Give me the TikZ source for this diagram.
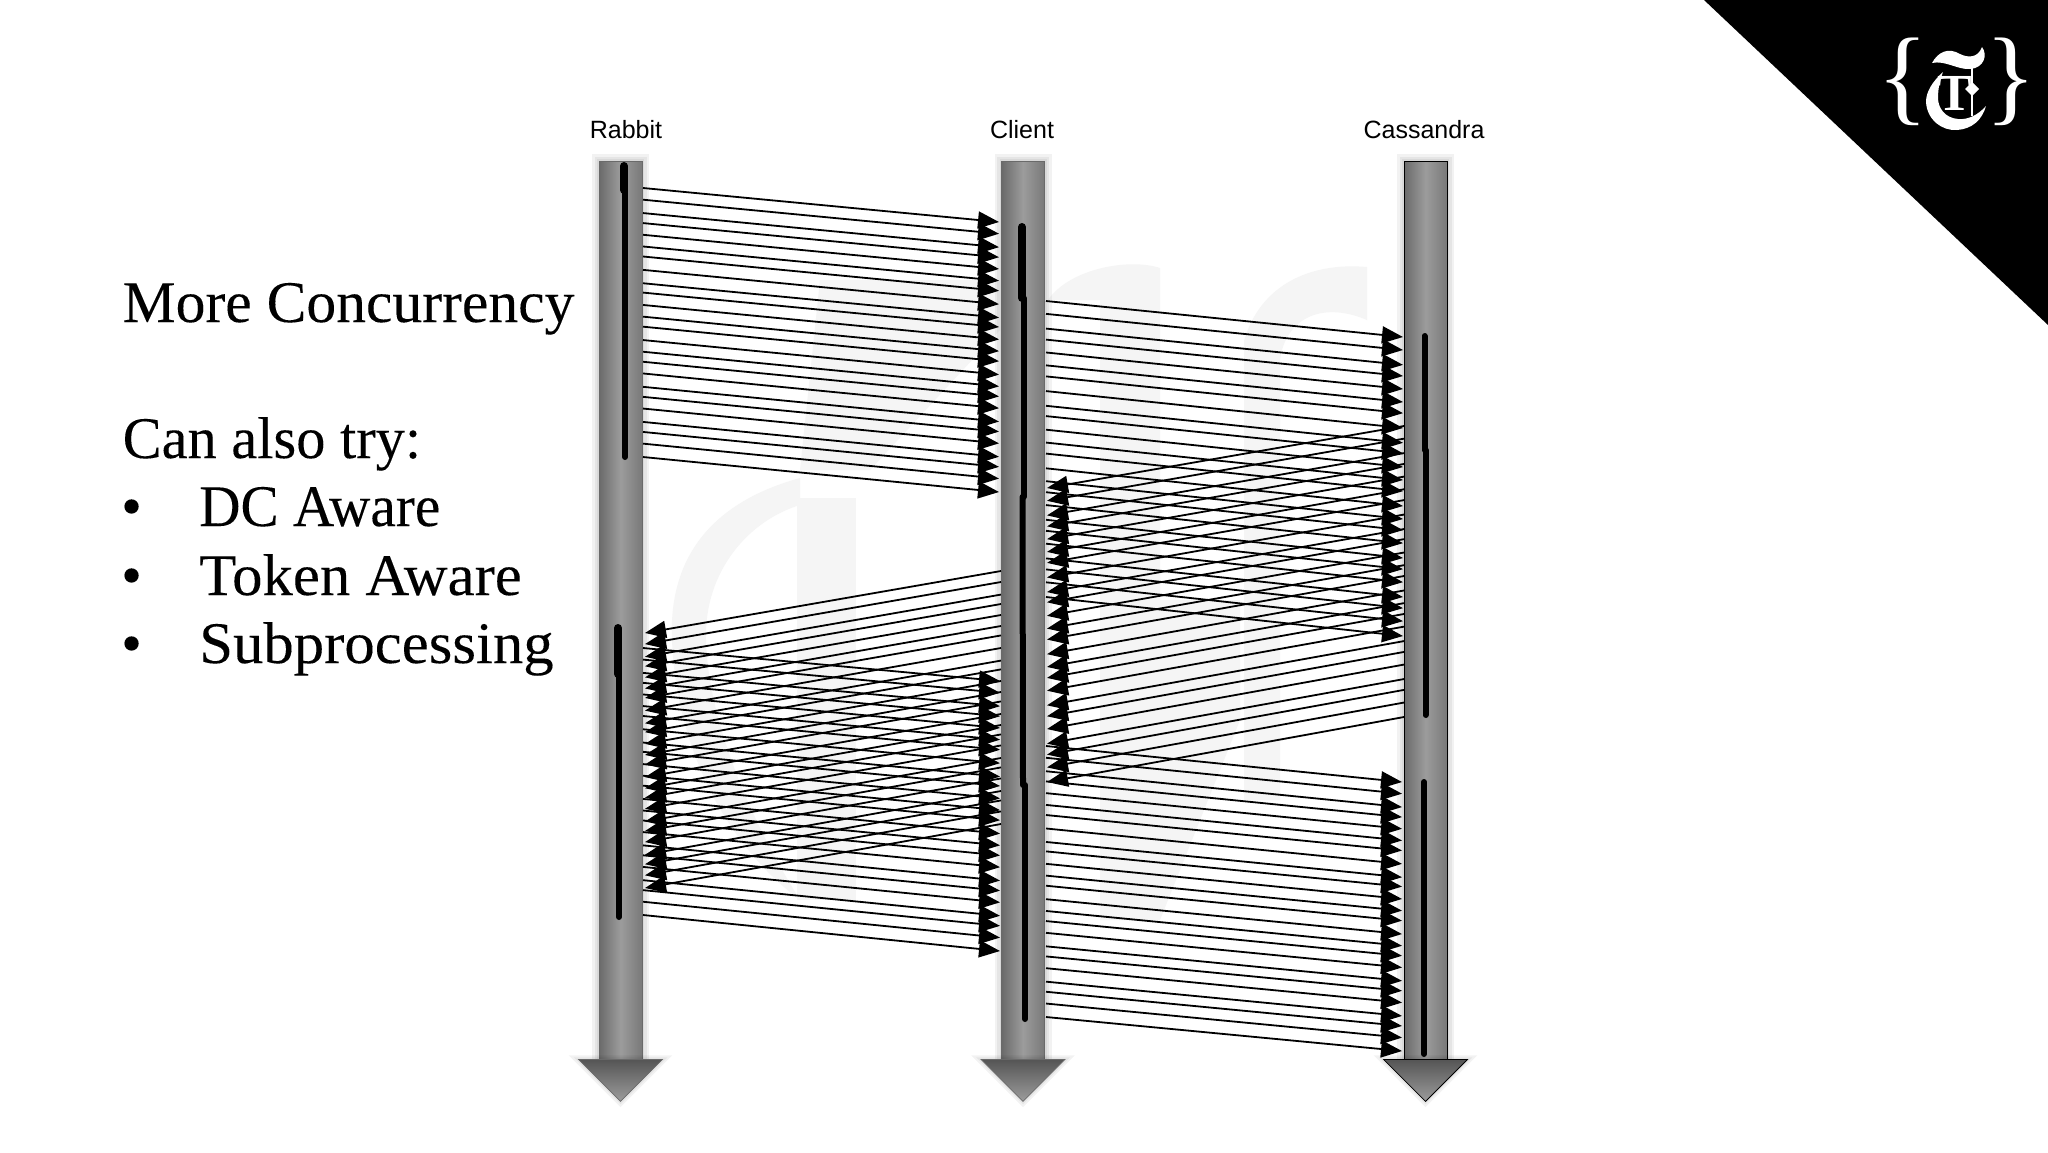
\documentclass[tikz,border=0pt]{standalone}
\usepackage{fontspec}
\setmainfont{Liberation Serif}
\newfontfamily\labelfont{Liberation Sans}
\usetikzlibrary{arrows.meta}
\definecolor{wmark}{HTML}{F5F5F5}
\definecolor{shaftdark}{HTML}{6A6A6A}
\definecolor{shaftlight}{HTML}{9C9C9C}
\tikzset{
  haze/.style={preaction={draw=black,line width=#1,opacity=.05}},
  shaftbox/.style={rectangle,minimum width=43,inner sep=0,draw=#1,line width=.8,
    haze=14,haze=9,haze=4,left color=shaftdark,right color=shaftdark!90,middle color=shaftlight},
  headfill/.style={draw=#1,line width=.8,haze=8,haze=4,top color=shaftdark!80!black,bottom color=shaftlight},
  activebar/.style={draw=black,line width=6,line cap=round},
  msgline/.style={draw=black,line width=1.8,-{Triangle[length=21pt,width=17pt]}},
  lifename/.style={font=\labelfont\fontsize{25}{25}\selectfont,text=black,anchor=base},
  slidetext/.style={font=\fontsize{59}{59}\selectfont\addfontfeature{FakeBold=0.12,FakeStretch=#1},
    text=black,anchor=base west,inner sep=0},
  slidetext/.default=1,
  logotext/.style={text=white,font=\fontsize{106}{106}\selectfont,inner sep=0,anchor=base}
}
% one batch of 24 messages, name, start, end, spread at either side
\newcommand{\msgset}[7]{
  \foreach \f [count=\i] in {0,35,75,105,140,175,205,245,285,313,350,385,415,455,490,520,555,595,625,660,700,730,765,805} {
    \coordinate (#1s\i) at (#2,{#3+\f/805*#6});
    \coordinate (#1e\i) at (#4,{#5+\f/805*#7});
    \draw[msgline] (#1s\i) -- (#1e\i);
  }
}
% arrow head below a shaft
\newcommand{\lifehead}[2]{
  \shade[headfill=#2] ([xshift=-42]#1.south) -- ([xshift=42]#1.south)
    -- ([yshift=-42]#1.south) -- cycle;
}
\begin{document}
\begin{tikzpicture}[x=1pt,y=-1pt]
  \useasboundingbox (0,0) rectangle (2048,1152);
  \fill[white] (0,0) rectangle (2048,1152);

  % faint watermark
  \fill[wmark] (800,478) .. controls (720,500) and (668,550) .. (672,640)
    .. controls (676,740) and (720,840) .. (800,900)
    .. controls (750,820) and (708,720) .. (706,640)
    .. controls (704,570) and (750,520) .. (800,505) -- cycle;
  \fill[wmark] (797,498) rectangle (856,900);
  \fill[wmark] (1048,300) .. controls (1070,268) and (1130,258) .. (1160,268)
    -- (1160,600) -- (1100,600) -- (1100,300) -- cycle;
  \fill[wmark] (1244,341) .. controls (1260,285) and (1310,262) .. (1367,267)
    -- (1367,320) .. controls (1320,300) and (1285,320) .. (1280,360) -- (1280,800) -- (1244,800) -- cycle;
  \fill[wmark] (820,280) -- (1000,280) -- (1000,330) -- (870,470) -- (800,470) -- cycle;
  \fill[wmark] (1100,600) -- (1240,600) -- (1240,720) -- (1160,920) -- (1100,920) -- cycle;

  % corner logo
  \fill[black] (1704,0) -- (2048,0) -- (2048,325) -- cycle;
  \node[logotext] (bra) at (1903,111) {\{};
  \node[logotext] (ket) at (2011,111) {\}};
  \node[logotext,font=\bfseries\fontsize{52}{52}\selectfont] (logot) at (1955,110) {T};
  \fill[white] (1932,63) .. controls (1938,52) and (1948,47) .. (1960,54)
    .. controls (1968,58) and (1978,58) .. (1982,47)
    .. controls (1988,55) and (1984,68) .. (1970,69)
    .. controls (1958,70) and (1945,60) .. (1932,63) -- cycle;
  \fill[white] (1943,72) .. controls (1932,82) and (1926,92) .. (1926,102)
    .. controls (1927,120) and (1942,131) .. (1957,130)
    .. controls (1972,129) and (1982,120) .. (1986,106)
    .. controls (1978,115) and (1968,120) .. (1958,119)
    .. controls (1945,118) and (1938,108) .. (1938,98)
    .. controls (1938,88) and (1940,80) .. (1943,72) -- cycle;
  \draw[white,line width=1.5] (1972,68) -- (1972,116);
  \fill[white] (1972,82) -- (1979,89) -- (1972,96) -- (1965,89) -- cycle;

  % lifelines
  \node[shaftbox=shaftdark,minimum height=898] (rabbit) at (620.5,610) {};
  \node[shaftbox=shaftdark,minimum height=898] (client) at (1023,610) {};
  \node[shaftbox=black,minimum height=898] (cassandra) at (1425.5,610) {};
  \lifehead{rabbit}{shaftdark}
  \lifehead{client}{shaftdark}
  \lifehead{cassandra}{black}
  \node[lifename] (rabbitname) at (626,138) {Rabbit};
  \node[lifename] (clientname) at (1022,138) {Client};
  \node[lifename] (cassandraname) at (1424,138) {Cassandra};

  % activation bars
  \draw[activebar,line width=8] (624,166) -- (624,190);
  \draw[activebar] (625,190) -- (625,457);
  \draw[activebar,line width=8] (618,628) -- (618,674);
  \draw[activebar] (619,674) -- (619,917);
  \draw[activebar,line width=8] (1022,227) -- (1022,298);
  \draw[activebar] (1023.5,298) -- (1023.5,497);
  \draw[activebar] (1022.5,497) -- (1023,785);
  \draw[activebar] (1025,785) -- (1025,1019);
  \draw[activebar] (1424.5,336) -- (1424.5,450);
  \draw[activebar] (1425.5,450) -- (1425.5,715);
  \draw[activebar] (1424,782) -- (1424,1054);

  % messages
  \msgset{ra}{643}{188}{999}{222}{269}{270}
  \msgset{cb}{1046}{301}{1403}{337}{296}{299}
  \msgset{cc}{1404}{426}{1047}{488}{291}{294}
  \msgset{cr}{1001}{571}{645}{633}{253}{255}
  \msgset{rb}{643}{648}{1000}{681}{267}{270}
  \msgset{cd}{1046}{746}{1402}{782}{271}{269}

  % text on the left
  \node[slidetext=1.01] (more) at (122.5,322) {More Concurrency};
  \node[slidetext=.99] (try) at (122.5,458) {Can also try:};
  \node[slidetext] (dot1) at (121,526) {•};
  \node[slidetext=.97] (dc) at (199,526) {DC Aware};
  \node[slidetext] (dot2) at (121,595) {•};
  \node[slidetext=1.03] (token) at (199,595) {Token Aware};
  \node[slidetext] (dot3) at (121,663) {•};
  \node[slidetext=1.03] (subp) at (199,663) {Subprocessing};
\end{tikzpicture}
\end{document}
